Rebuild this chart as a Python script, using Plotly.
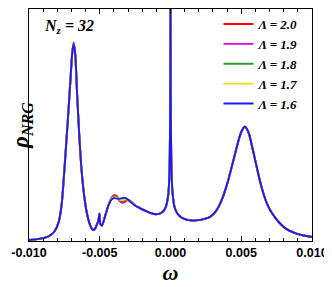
import plotly.graph_objects as go

# omega in units of 1e-3
omega_k = [-10.0, -9.5, -9.0, -8.6, -8.2, -7.9, -7.7, -7.5, -7.35, -7.2, -7.05, -6.95, -6.85,
           -6.75, -6.6, -6.45, -6.3, -6.1, -5.9, -5.7, -5.5, -5.35, -5.2, -5.1, -5.02, -4.95,
           -4.85, -4.6, -4.4,
           -4.2, -4.0, -3.8, -3.6, -3.4, -3.2, -3.0, -2.8,
           -2.5, -2.2, -1.8, -1.4, -1.0, -0.7, -0.45, -0.3, -0.15, -0.07, -0.02, 0.0, 0.02,
           0.07, 0.15, 0.3, 0.5, 0.8, 1.2, 1.6, 2.0, 2.4, 2.8, 3.2, 3.6, 4.0, 4.4, 4.7, 5.0,
           5.25, 5.5, 5.8, 6.1, 6.4, 6.8, 7.2, 7.7, 8.2, 8.9, 9.5, 10.0]

rho_left = [0.004, 0.007, 0.012, 0.020, 0.040, 0.080, 0.150, 0.300, 0.430, 0.560, 0.700, 0.790]
peak_16 = [0.830]
peak_20 = [0.838]
rho_mid = [0.800, 0.620, 0.450, 0.310, 0.190, 0.115, 0.070, 0.048, 0.050, 0.070, 0.085, 0.115,
           0.070, 0.065, 0.110, 0.148]
hump_20 = [0.178, 0.193, 0.190, 0.169, 0.161, 0.167, 0.173, 0.168]
hump_19 = [0.176, 0.189, 0.187, 0.171, 0.165, 0.171, 0.173, 0.166]
hump_18 = [0.175, 0.187, 0.185, 0.173, 0.169, 0.174, 0.172, 0.165]
hump_17 = [0.174, 0.184, 0.182, 0.175, 0.173, 0.177, 0.172, 0.164]
hump_16 = [0.172, 0.181, 0.179, 0.178, 0.181, 0.182, 0.174, 0.163]
rho_right = [0.150, 0.140, 0.128, 0.118, 0.113, 0.117, 0.130, 0.150, 0.200, 0.300, 0.600, 1.050,
             0.600, 0.300, 0.200, 0.140, 0.115, 0.098, 0.089, 0.086, 0.088, 0.093, 0.102, 0.125,
             0.170, 0.240, 0.330, 0.400, 0.460, 0.482, 0.460, 0.390, 0.310, 0.235, 0.160, 0.115,
             0.077, 0.050, 0.031, 0.022, 0.017]

lambdas = ["2.0", "1.9", "1.8", "1.7", "1.6"]
colors = ["#FF0000", "#E000E0", "#2E9A2E", "#FFD800", "#1A1AFF"]
humps = [hump_20, hump_19, hump_18, hump_17, hump_16]
peaks = [peak_20, peak_16, peak_16, peak_16, peak_16]

tick_vals = [-0.010, -0.005, 0.0, 0.005, 0.010]
tick_text = ["-0.010", "-0.005", "0.000", "0.005", "0.010"]

omega = [w * 1e-3 for w in omega_k]

fig = go.Figure()
for lam, col, hump, pk in zip(lambdas, colors, humps, peaks):
    rho = rho_left + pk + rho_mid + hump + rho_right
    fig.add_trace(go.Scatter(
        x=omega, y=rho, mode="lines",
        line=dict(color=col, width=1.9, shape="spline", smoothing=0.8),
        name="<b><i>Λ = " + lam + "</i></b>",
    ))

fig.update_layout(
    width=324, height=279,
    margin=dict(l=21, r=20, t=1, b=46),
    paper_bgcolor="white", plot_bgcolor="white",
    font=dict(family="Liberation Serif", color="black"),
    showlegend=True,
    legend=dict(
        x=0.97, y=1.0, xanchor="right", yanchor="top",
        bgcolor="rgba(0,0,0,0)", borderwidth=0,
        font=dict(family="Liberation Serif", size=13, color="black"),
        tracegroupgap=0, itemwidth=30,
    ),
    xaxis=dict(
        range=[-0.010, 0.010], tickvals=tick_vals, ticktext=tick_text,
        ticks="inside", ticklen=5, tickwidth=1, tickcolor="black",
        minor=dict(dtick=0.001, ticks="inside", ticklen=3, tickcolor="black"),
        showline=True, linecolor="black", linewidth=1.3, mirror="allticks",
        showgrid=False, zeroline=False,
        tickfont=dict(family="Liberation Sans", size=12.5, color="black", weight="bold"),
        title=dict(text="<b><i>ω</i></b>", font=dict(family="Liberation Serif", size=22),
                   standoff=5),
    ),
    yaxis=dict(
        range=[0, 0.979], showticklabels=False, ticks="",
        showline=True, linecolor="black", linewidth=1.3, mirror=True,
        showgrid=False, zeroline=False,
        title=dict(text="<b><i>ρ<sub>NRG</sub></i></b>",
                   font=dict(family="Liberation Serif", size=23), standoff=0),
    ),
    annotations=[dict(
        x=0.045, y=0.975, xref="paper", yref="paper", xanchor="left", yanchor="top",
        text="<b><i>N<sub>z</sub> = 32</i></b>", showarrow=False,
        font=dict(family="Liberation Serif", size=16, color="black"),
    )],
)

fig.write_html("out.html")
